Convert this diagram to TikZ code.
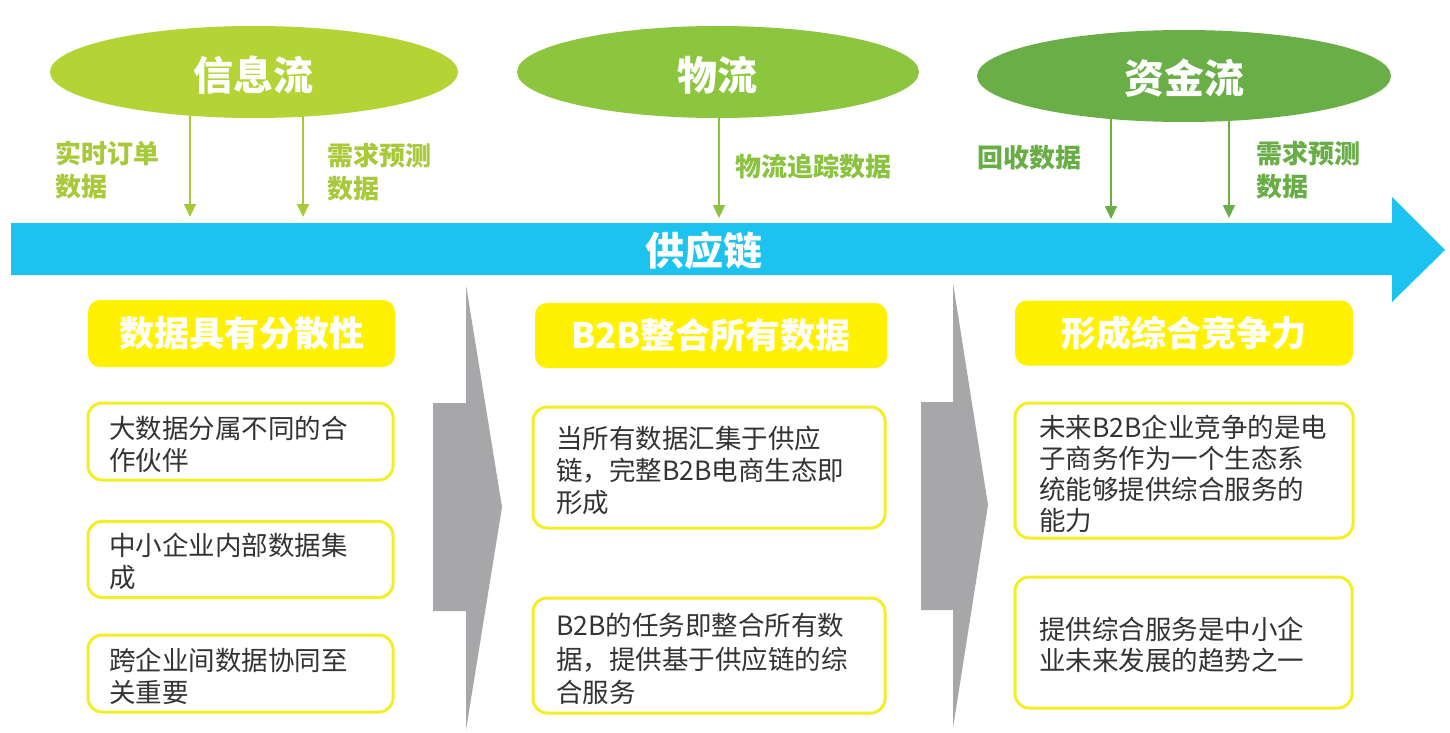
\documentclass[tikz,border=0pt]{standalone}
\usepackage{fontspec}
\newfontfamily\cjk{Noto Sans CJK SC}
\usetikzlibrary{shapes.geometric,arrows.meta}
\definecolor{ellA}{HTML}{B4D334}
\definecolor{ellB}{HTML}{8CC63F}
\definecolor{ellC}{HTML}{69AE46}
\definecolor{labA}{HTML}{A8C93A}
\definecolor{labB}{HTML}{8BC23F}
\definecolor{labC}{HTML}{69AD47}
\definecolor{chainblue}{HTML}{1CC3EE}
\definecolor{hdryellow}{HTML}{FFF100}
\definecolor{bordyellow}{HTML}{F4EE26}
\definecolor{chevgray}{HTML}{A7A6A8}
\definecolor{bodytext}{HTML}{333333}
\begin{document}
\begin{tikzpicture}[x=1pt,y=-1pt,
  flowell/.style={ellipse, inner sep=0pt, minimum width=406pt, minimum height=92pt},
  titletext/.style={text=white, font=\cjk\bfseries\fontsize{40}{42}\selectfont, inner sep=0pt},
  flowlab/.style={anchor=west, align=left, inner sep=0pt, font=\cjk\bfseries\fontsize{26}{33}\selectfont},
  flowarr/.style={line width=1.8pt, -{Triangle[width=12pt,length=13pt]}},
  hdrbox/.style={fill=hdryellow, rounded corners=12pt, inner sep=0pt, text=white,
     font=\cjk\bfseries\fontsize{35}{37}\selectfont},
  itembox/.style={draw=bordyellow, line width=3pt, fill=white, rounded corners=14pt, inner sep=0pt},
  itemtext/.style={anchor=west, align=left, inner sep=0pt, text=bodytext,
     font=\cjk\fontsize{26.5}{32}\selectfont},
  chevron/.style={fill=chevgray}
]
\useasboundingbox (0,0) rectangle (1450,733);
\fill[white] (0,0) rectangle (1450,733);

% ---- supply-chain arrow ----
\fill[chainblue] (11,223) -- (1392,223) -- (1392,197) -- (1445,250) -- (1392,302) -- (1392,275) -- (11,275) -- cycle;
\node[titletext, font=\cjk\bfseries\fontsize{39}{41}\selectfont] (chain) at (704,251) {供应链};

% arrow end points on the chain
\coordinate (a1) at (190,217);
\coordinate (a2) at (303,217);
\coordinate (a3) at (719,218);
\coordinate (a4) at (1111,219);
\coordinate (a5) at (1229,218);

% ---- ellipse centres ----
\path (254,72) coordinate (ci);
\path (718,72) coordinate (cw);
\path (1184,76) coordinate (cz);

\draw[flowarr, labA] (ci -| a1) -- (a1);
\draw[flowarr, labA] (ci -| a2) -- (a2);
\draw[flowarr, labB] (cw -| a3) -- (a3);
\draw[flowarr, labC] (cz -| a4) -- (a4);
\draw[flowarr, labC] (cz -| a5) -- (a5);

\node[flowell, fill=ellA, minimum width=408pt] (info) at (ci) {};
\node[flowell, fill=ellB, minimum width=402pt] (wuliu) at (cw) {};
\node[flowell, fill=ellC, minimum width=414pt] (zijin) at (cz) {};
\node[titletext] at (253,75) {信息流};
\node[titletext] at (717,75) {物流};
\node[titletext] at (1184,78) {资金流};

% ---- flow labels ----
\node[flowlab, text=labA] (l1) at (55,170) {实时订单\\数据};
\node[flowlab, text=labA] (l2) at (327,172) {需求预测\\数据};
\node[flowlab, text=labB] (l3) at (735,167) {物流追踪数据};
\node[flowlab, text=labC] (l4) at (977,158) {回收数据};
\node[flowlab, text=labC] (l5) at (1256,170) {需求预测\\数据};

% ---- chevrons ----
\fill[chevron] (466,285) -- (502,507) -- (466,730) -- (466,611) -- (433,611) -- (433,403) -- (466,403) -- cycle;
\fill[chevron] (953,283) -- (988,505) -- (953,728) -- (953,610) -- (921,610) -- (921,402) -- (953,402) -- cycle;

% ---- header boxes ----
\node[hdrbox, minimum width=307pt, minimum height=67pt] (h1) at (241.5,333.5) {数据具有分散性};
\node[hdrbox, minimum width=352pt, minimum height=65pt] (h2) at (711,335.5) {B2B整合所有数据};
\node[hdrbox, minimum width=338pt, minimum height=65pt] (h3) at (1184,333) {形成综合竞争力};

% ---- item boxes ----
\node[itembox, minimum width=305pt, minimum height=77pt] (b11) at (240.5,441.5) {};
\node[itembox, minimum width=305pt, minimum height=76pt] (b12) at (240.5,559.5) {};
\node[itembox, minimum width=305pt, minimum height=77pt] (b13) at (240.5,673.5) {};
\node[itembox, minimum width=352pt, minimum height=121pt] (b21) at (709,467.5) {};
\node[itembox, minimum width=352pt, minimum height=115pt] (b22) at (709,655.5) {};
\node[itembox, minimum width=338pt, minimum height=135pt] (b31) at (1184,470.5) {};
\node[itembox, minimum width=337pt, minimum height=131pt] (b32) at (1183.5,642.5) {};

\node[itemtext] (t11) at (109,444) {大数据分属不同的合\\作伙伴};
\node[itemtext] (t12) at (109,561) {中小企业内部数据集\\成};
\node[itemtext] (t13) at (109,676) {跨企业间数据协同至\\关重要};
\node[itemtext] (t21) at (556,470) {当所有数据汇集于供应\\链，完整B2B电商生态即\\形成};
\node[itemtext, font=\cjk\fontsize{26.5}{33.5}\selectfont] (t22) at (556,659) {B2B的任务即整合所有数\\据，提供基于供应链的综\\合服务};
\node[itemtext, font=\cjk\fontsize{26.5}{31}\selectfont] (t31) at (1039,473.5) {未来B2B企业竞争的是电\\子商务作为一个生态系\\统能够提供综合服务的\\能力};
\node[itemtext, font=\cjk\fontsize{26.5}{31}\selectfont] (t32) at (1039,645) {提供综合服务是中小企\\业未来发展的趋势之一};
\end{tikzpicture}
\end{document}
